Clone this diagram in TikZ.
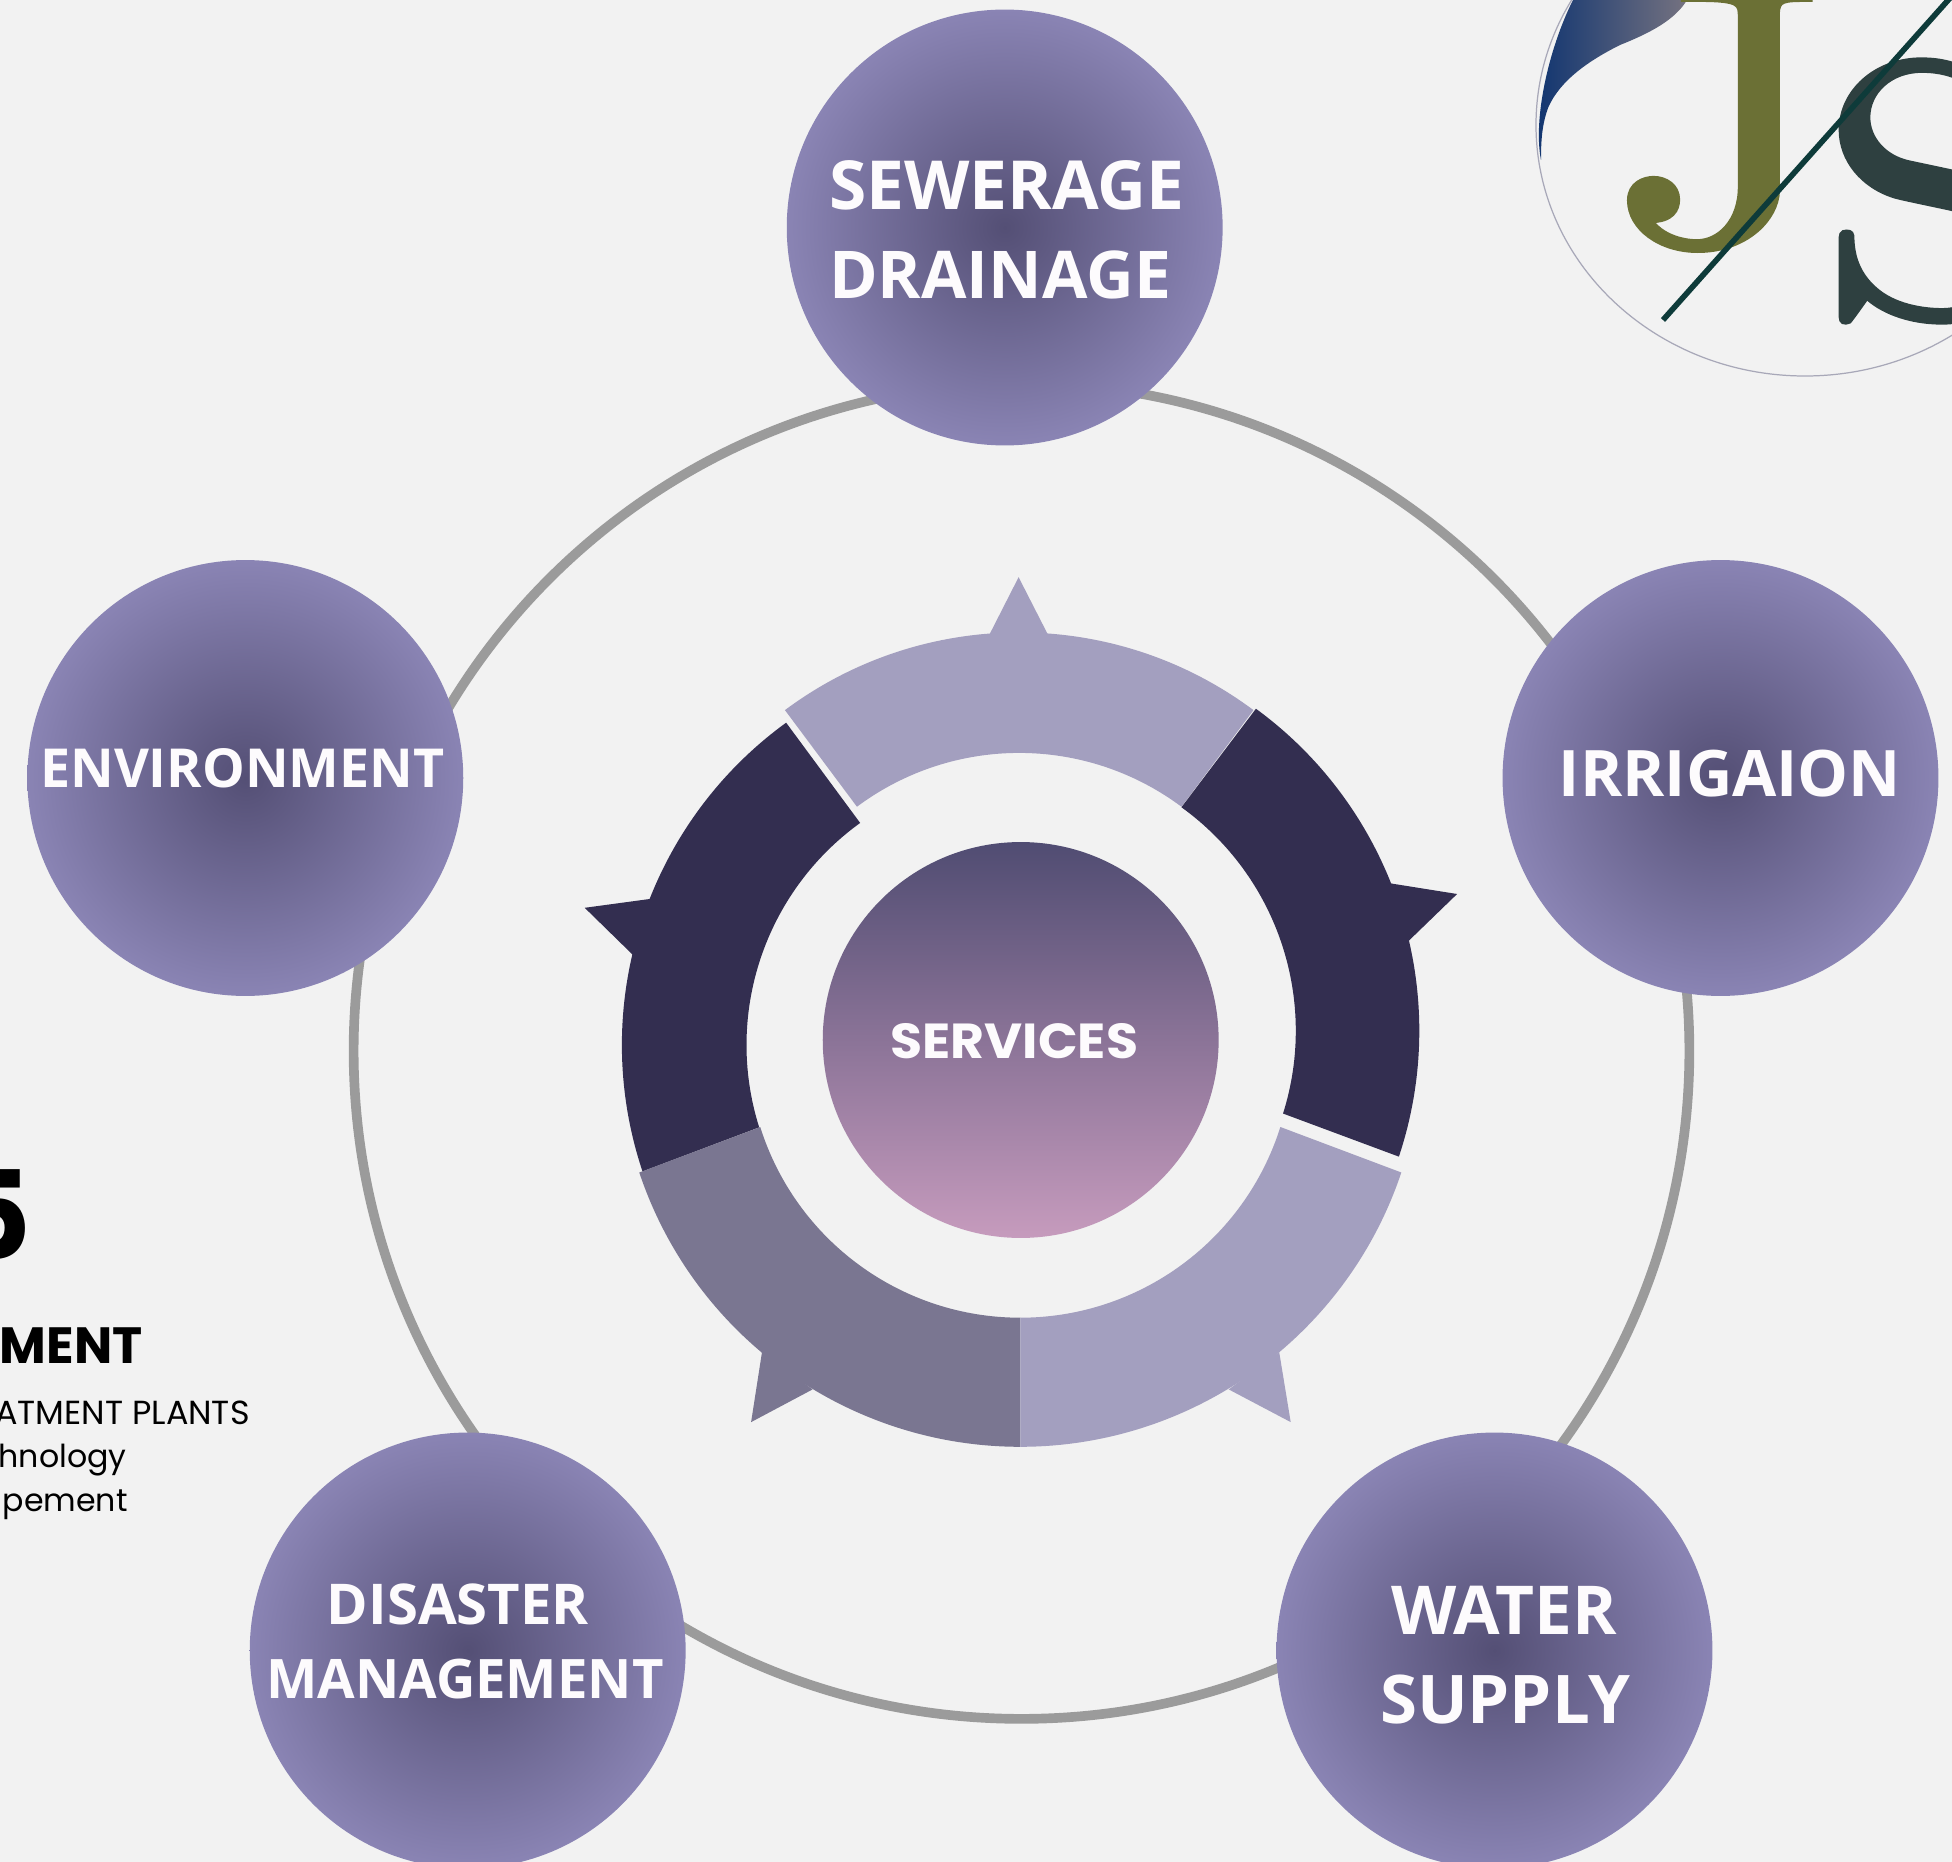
\documentclass[tikz,border=0pt]{standalone}
\usepackage{fontspec}
\setmainfont{Open Sans}
\newfontfamily\roundfont{Poppins}
\newfontfamily\widefont[FakeStretch=1.06]{Poppins}
\newfontfamily\logofont[FakeStretch=1.14,FakeBold=1.5]{lmroman10-regular.otf}
\usetikzlibrary{positioning}
\definecolor{pagebg}{HTML}{F2F2F2}
\definecolor{blobin}{HTML}{544F75}
\definecolor{blobout}{HTML}{8A84B4}
\definecolor{ringgray}{HTML}{9B9B9B}
\definecolor{seglight}{HTML}{A39FBF}
\definecolor{segdark}{HTML}{332E50}
\definecolor{segmid}{HTML}{7A7691}
\definecolor{labelwhite}{HTML}{FDFBFD}
\definecolor{logoolive}{HTML}{6B7035}
\definecolor{logoteal}{HTML}{0E3B3A}
\definecolor{logoslate}{HTML}{2E4040}
\definecolor{logothin}{HTML}{A8A8B8}
\definecolor{swooshA}{HTML}{0F3470}
\definecolor{swooshB}{HTML}{55617F}
\definecolor{swooshC}{HTML}{757280}
\definecolor{centreA}{HTML}{504C72}
\definecolor{centreB}{HTML}{8A7095}
\definecolor{centreC}{HTML}{C69BBD}

\begin{document}
\begin{tikzpicture}[x=0.02cm, y=-0.02cm,
 blob/.style = {circle, minimum size=8.72cm, inner sep=0pt, inner color=blobin, outer color=blobout},
 blobtext/.style = {text=labelwhite, inner sep=0pt, font=\fontsize{#1}{#1}\selectfont\bfseries},
 sidetext/.style = {text=black, inner sep=0pt, anchor=base east, font=\roundfont\fontsize{#1}{#1}\selectfont},
 sidehead/.style = {text=black, inner sep=0pt, anchor=base east, font=\roundfont\fontsize{#1}{#1}\selectfont\bfseries},
 logochar/.style = {inner sep=0pt, anchor=base west, font=\logofont\fontsize{#1}{#1}\selectfont},
                        ]
    \useasboundingbox (0,0) rectangle (1952,1862);
    \fill[pagebg] (0,0) rectangle (1952,1862);

%% logo
    \draw[color=logothin, line width=0.7pt] (1805,125) ellipse [x radius=269, y radius=251];
    \path[left color=swooshA, middle color=swooshB, right color=swooshC]
        (1541,160) .. controls (1533,120) and (1548,50) .. (1573,0) -- (1687,0)
        .. controls (1675,20) and (1650,33) .. (1620,45)
        .. controls (1590,60) and (1560,80) .. (1548,108)
        .. controls (1542,125) and (1541,140) .. (1541,160) -- cycle;
    \node[logochar=212, text=logoolive] (letterj) at (1612,242) {J};
    \node[logochar=205, text=logoslate] (letters) at (1818,314) {S};
    \coordinate (slashlow) at (1663,320);
    \coordinate (slashhigh) at (1950,-2);
    \draw[logoteal, line width=3.2pt] (slashlow) -- (slashhigh);

%% outer ring and circles
    \node[circle, draw=ringgray, line width=5.5pt, minimum size=26.72cm, inner sep=0pt] (ring) at (1021.5,1051) {};
    \node [blob] (sewerage) at (1004.7,227.5) {};
    \node [blob] (environment) at (245.3,778) {};
    \node [blob] (irrigaion) at (1720.5,778) {};
    \node [blob] (disaster) at (467.7,1650.5) {};
    \node [blob] (water) at (1494.5,1650.5) {};

    \node [blobtext=38.5] (sewerage1) at (1006.7,185) {SEWERAGE};
    \node [blobtext=37.5] (sewerage2) at (1000,274.5) {DRAINAGE};
    \node [blobtext=30.6] (environment1) at (242.3,768) {ENVIRONMENT};
    \node [blobtext=36.5] (irrigaion1) at (1730,774) {IRRIGAION};
    \node [blobtext=32] (disaster1) at (458,1604.5) {DISASTER};
    \node [blobtext=31] (disaster2) at (465,1679) {MANAGEMENT};
    \node [blobtext=38.4] (water1) at (1504.3,1610) {WATER};
    \node [blobtext=38.2] (water2) at (1505,1700) {SUPPLY};

%% segments of the inner ring
    \fill[seglight, shift={(1019.2,1024.4)}] (-126.7:392) arc[start angle=-126.7, end angle=-53.3, radius=392]
        -- (-53.3:271.5) arc[start angle=-53.3, end angle=-126.7, radius=271.5] -- cycle;
    \fill[seglight] (989.4,634.6) -- (1018.6,577.2) -- (1047.9,634.6) -- cycle;

    \fill[segdark, shift={(1020.3,1030.7)}] (-53.8:399) arc[start angle=-53.8, end angle=18.4, radius=399]
        -- (17.5:275.5) arc[start angle=17.5, end angle=-54.2, radius=275.5] -- cycle;
    \fill[segdark] (1389.4,883.2) -- (1457.1,894) -- (1407.8,941.7) -- cycle;

    \fill[segdark, shift={(1020.3,1045)}] (-126:398.4) arc[start angle=-126, end angle=-198.5, radius=398.4]
        -- (-197.5:273.8) arc[start angle=-197.5, end angle=-125.8, radius=273.8] -- cycle;
    \fill[segdark] (651.8,898.7) -- (584.7,907.8) -- (633.5,955.5) -- cycle;

    \fill[segmid, shift={(1020.3,1045)}] (161.5:401.8) arc[start angle=161.5, end angle=90, radius=401.8]
        -- (90:272.7) arc[start angle=90, end angle=162.5, radius=272.7] -- cycle;
    \fill[segmid] (762,1352.1) -- (751.1,1422.1) -- (812.6,1389.4) -- cycle;

    \fill[seglight, shift={(1020.3,1045)}] (18.5:401.8) arc[start angle=18.5, end angle=90, radius=401.8]
        -- (90:272.7) arc[start angle=90, end angle=17.5, radius=272.7] -- cycle;
    \fill[seglight] (1279.2,1352.1) -- (1290.7,1422.1) -- (1228.7,1389.4) -- cycle;

%% centre
    \node[circle, minimum size=7.92cm, inner sep=0pt, top color=centreA, middle color=centreB, bottom color=centreC] (services) at (1020.7,1040) {};
    \node[text=labelwhite, inner sep=0pt, font=\widefont\fontsize{28}{28}\selectfont\bfseries] (services1) at (1014.4,1040.7) {SERVICES};

%% text cut by the left edge
    \node[sidehead=70] (bignum) at (32,1259) {5};
    \node[sidehead=29] (head) at (143,1363) {MENT};
    \node[sidetext=19] (line1) at (250,1424) {ATMENT PLANTS};
    \node[sidetext=18] (line2) at (127,1467.5) {hnology};
    \node[sidetext=18] (line3) at (128,1511.5) {pement};
    \end{tikzpicture}
\end{document}
